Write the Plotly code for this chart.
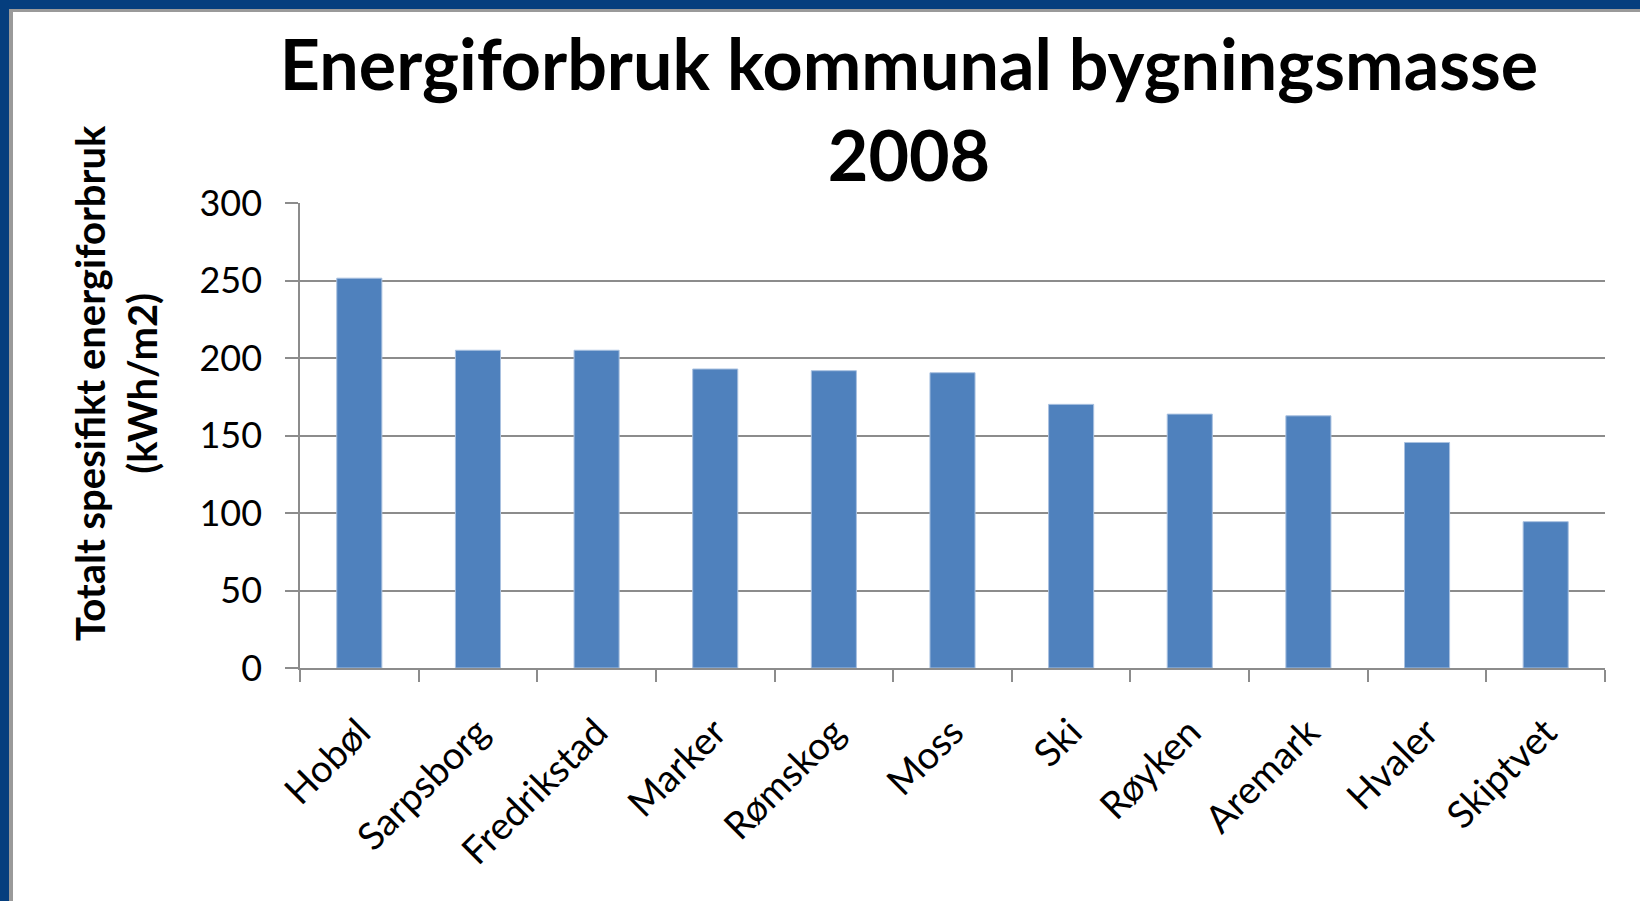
import plotly.graph_objects as go

categories = ["Hobøl", "Sarpsborg", "Fredrikstad", "Marker", "Rømskog", "Moss",
              "Ski", "Røyken", "Aremark", "Hvaler", "Skiptvet"]
values = [251.5, 205, 205, 192.9, 191.8, 190.5, 170.1, 163.8, 162.7, 145.5, 94.4]
y_ticks = [0, 50, 100, 150, 200, 250, 300]

title_text = "Energiforbruk kommunal bygningsmasse<br>2008"
ytitle_text = "Totalt spesifikt energiforbruk<br>(kWh/m2)"

W, H = 1640, 901
L, R, T, B = 300, 35, 203, 233
PW, PH = W - L - R, H - T - B

def px(x):
    return (x - L) / PW

def py(y):
    return (H - B - y) / PH

fig = go.Figure()
fig.add_trace(go.Bar(
    x=categories, y=values,
    marker=dict(color="#4F81BD", line=dict(color="#A9C1E0", width=1)),
))

GRID = "#8C8C8C"
FONT = "Lato"

fig.update_layout(
    width=W, height=H,
    margin=dict(l=L, r=R, t=T, b=B),
    paper_bgcolor="white", plot_bgcolor="white",
    showlegend=False,
    bargap=0.62,
    title=dict(text=title_text, x=909 / W, xref="container", xanchor="center",
               y=1 - 90 / H, yref="container", yanchor="middle",
               font=dict(family=FONT, size=70, color="black", weight="bold")),
    xaxis=dict(
        type="category", tickangle=-45, tickson="boundaries",
        ticks="outside", ticklen=12, tickcolor=GRID, tickwidth=1.5,
        showline=True, linecolor=GRID, linewidth=1.5, showgrid=False,
        tickfont=dict(family=FONT, size=38, color="black"),
        ticklabelstandoff=25,
    ),
    yaxis=dict(
        range=[0, 300], tickvals=y_ticks, ticktext=[str(v) for v in y_ticks],
        ticks="outside", ticklen=13, tickcolor=GRID, tickwidth=1.5,
        showline=True, linecolor=GRID, linewidth=1.5,
        showgrid=True, gridcolor=GRID, gridwidth=1.5, zeroline=False,
        tickfont=dict(family=FONT, size=36, color="black"),
        ticklabelstandoff=16,
    ),
)

fig.add_annotation(
    text=ytitle_text, textangle=-90, showarrow=False,
    xref="paper", yref="paper", x=px(116), y=py(383),
    xanchor="center", yanchor="middle",
    font=dict(family=FONT, size=40, color="black", weight="bold"),
)

BLUE = "#053E7E"
GRAY = "#9A9A9A"
# slide frame: gray shadow then blue band (top and left)
fig.add_shape(type="rect", xref="paper", yref="paper", layer="above",
              x0=px(0), x1=px(W), y0=py(12), y1=py(0),
              fillcolor=GRAY, line=dict(width=0))
fig.add_shape(type="rect", xref="paper", yref="paper", layer="above",
              x0=px(0), x1=px(13), y0=py(H), y1=py(0),
              fillcolor=GRAY, line=dict(width=0))
fig.add_shape(type="rect", xref="paper", yref="paper", layer="above",
              x0=px(0), x1=px(W), y0=py(9), y1=py(0),
              fillcolor=BLUE, line=dict(width=0))
fig.add_shape(type="rect", xref="paper", yref="paper", layer="above",
              x0=px(0), x1=px(9), y0=py(H), y1=py(0),
              fillcolor=BLUE, line=dict(width=0))

fig.write_html("out.html",
               config={"displayModeBar": False},
               post_script="document.body.style.margin='0';document.body.style.overflow='hidden';")
